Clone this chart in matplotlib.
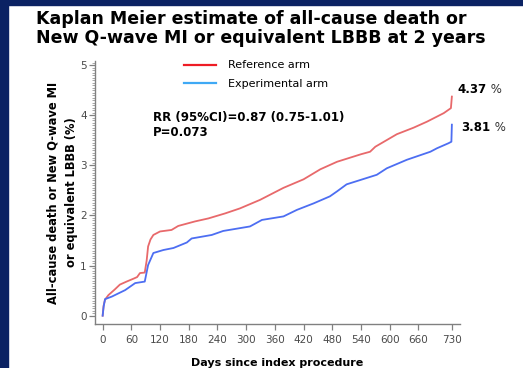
import matplotlib
matplotlib.use("Agg")
import matplotlib.pyplot as plt
from matplotlib.lines import Line2D
from matplotlib.patches import Rectangle

# Kaplan-Meier curves (days, cumulative %)
ref_days = [0, 2, 5, 12, 25, 36, 50, 65, 72, 78, 88, 92, 95, 100, 106, 120, 144, 158,
            193, 221, 256, 287, 329, 378, 420, 455, 490, 540, 559, 570, 615, 650, 678,
            713, 728, 730]
ref_vals = [0, 0.2, 0.32, 0.41, 0.52, 0.62, 0.68, 0.74, 0.77, 0.85, 0.86, 1.1, 1.38, 1.52,
            1.61, 1.68, 1.71, 1.79, 1.88, 1.94, 2.04, 2.14, 2.31, 2.55, 2.72, 2.92, 3.07,
            3.22, 3.27, 3.37, 3.62, 3.75, 3.87, 4.04, 4.14, 4.37]

exp_days = [0, 2, 5, 19, 47, 68, 88, 95, 106, 127, 148, 176, 186, 228, 252, 308, 333,
            378, 406, 441, 475, 490, 510, 573, 594, 636, 685, 699, 723, 729, 730]
exp_vals = [0, 0.18, 0.33, 0.38, 0.51, 0.65, 0.68, 1.01, 1.25, 1.31, 1.35, 1.46, 1.54,
            1.61, 1.69, 1.78, 1.91, 1.98, 2.11, 2.24, 2.38, 2.48, 2.62, 2.81, 2.94, 3.11,
            3.27, 3.34, 3.44, 3.47, 3.81]

x_ticks = [0, 60, 120, 180, 240, 300, 360, 420, 480, 540, 600, 660, 730]
y_ticks = [0, 1, 2, 3, 4, 5]
end_labels = ["4.37", "3.81"]

W, H = 523, 368
fig = plt.figure(figsize=(W / 100, H / 100), dpi=100)
fig.patch.set_facecolor("white")

# navy frame on the left and top
fig.patches.append(Rectangle((0, 0), 8 / W, 1, transform=fig.transFigure,
                             color="#0b2263", zorder=0))
fig.patches.append(Rectangle((0, 1 - 5 / H), 1, 5 / H, transform=fig.transFigure,
                             color="#0b2263", zorder=0))

fig.text(36 / W, 1 - 10 / H,
         "Kaplan Meier estimate of all-cause death or\nNew Q-wave MI or equivalent LBBB at 2 years",
         fontsize=12.5, fontweight="bold", ha="left", va="top", linespacing=1.1,
         color="black")

ax = fig.add_axes([95 / W, 1 - 324 / H, 365 / W, 263 / H])
ax.set_facecolor("none")

ax.plot(ref_days, ref_vals, color="#e8696b", lw=1.3)
ax.plot(exp_days, exp_vals, color="#4d6ef2", lw=1.3)

ax.set_xlim(-16, 747)
ax.set_ylim(-0.166, 5.08)
ax.set_xticks(x_ticks)
ax.set_yticks(y_ticks)
ax.set_yticks([i * 0.05 for i in range(0, 102)], minor=True)

for s in ["top", "right"]:
    ax.spines[s].set_visible(False)
for s in ["left", "bottom"]:
    ax.spines[s].set_color("#808080")
    ax.spines[s].set_linewidth(1.0)

ax.tick_params(axis="both", which="major", length=4, width=0.9, color="#808080",
               labelcolor="#4a4a4a", labelsize=7.5, pad=2)
ax.tick_params(axis="x", which="major", pad=4)
ax.tick_params(axis="y", which="minor", length=2, width=0.6, color="#999999")

ax.set_xlabel("Days since index procedure", fontsize=8, fontweight="bold", labelpad=9)
ax.set_ylabel("All-cause death or New Q-wave MI\nor equivalent LBBB (%)", fontsize=8.3,
              fontweight="bold", labelpad=1.5, linespacing=1.5)

handles = [Line2D([], [], color="#ee1c25", lw=1.6),
           Line2D([], [], color="#3fa9f5", lw=1.6)]
ax.legend(handles, ["Reference arm", "Experimental arm"], loc="upper left",
          bbox_to_anchor=(180 / W, 1 - 56 / H), bbox_transform=fig.transFigure,
          frameon=False, fontsize=8, handlelength=2.8, handletextpad=1.1,
          labelspacing=0.75, borderaxespad=0)

fig.text(153 / W, 1 - 111 / H, "RR (95%CI)=0.87 (0.75-1.01)\nP=0.073",
         fontsize=8.5, fontweight="bold", ha="left", va="top", linespacing=1.25)

for lbl, yv, dx, dy in [(end_labels[0], ref_vals[-1], 4, 5), (end_labels[1], exp_vals[-1], 7, -2)]:
    t = ax.annotate(lbl, xy=(730, yv), xytext=(dx, dy), textcoords="offset points",
                    fontsize=8.5, fontweight="bold", va="center", ha="left")
    ax.annotate(" %", xy=(1, 0.5), xycoords=t, va="center", ha="left", fontsize=8.5,
                color="#333333")

fig.savefig("out.png", dpi=100)
